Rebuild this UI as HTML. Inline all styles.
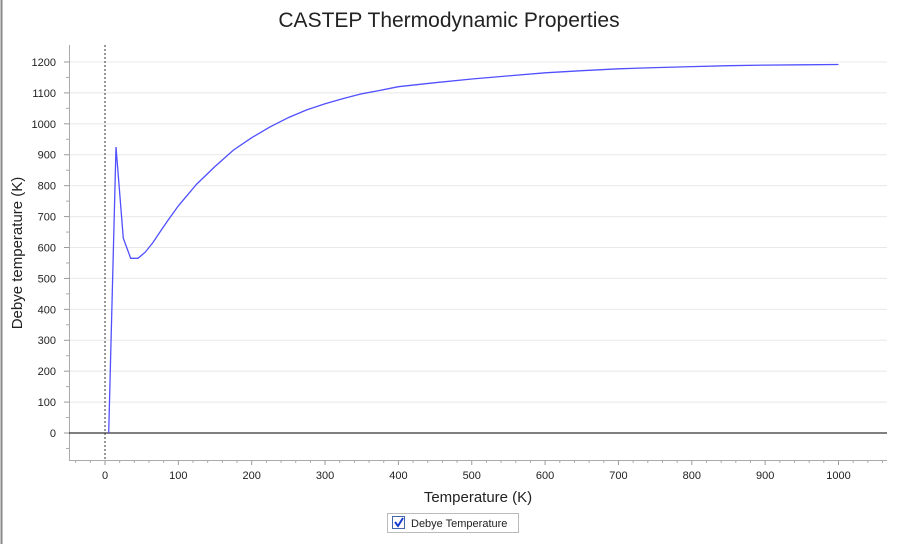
<!DOCTYPE html>
<html><head><meta charset="utf-8"><style>
body{margin:0;width:900px;height:544px;background:#fff;font-family:"Liberation Sans",sans-serif;overflow:hidden}
</style></head><body>
<svg width="900" height="544" xmlns="http://www.w3.org/2000/svg">
<rect x="0" y="0" width="900" height="544" fill="#fff"/>
<line x1="1.5" y1="0" x2="1.5" y2="544" stroke="#888" stroke-width="2"/>
<text x="449" y="27" text-anchor="middle" font-size="21" fill="#222">CASTEP Thermodynamic Properties</text>
<g id="grid"></g>
<g id="axes"></g>
<path id="series" fill="none" stroke="#5050ff" stroke-width="1.3"/>
<text x="478" y="502" text-anchor="middle" font-size="15" fill="#222">Temperature (K)</text>
<text transform="translate(22,253) rotate(-90)" text-anchor="middle" font-size="15" fill="#222">Debye temperature (K)</text>
<g>
<rect x="387.5" y="513.5" width="131" height="19" fill="#fff" stroke="#bbb"/>
<rect x="392.5" y="516.5" width="12" height="12" fill="#fff" stroke="#4466aa"/>
<path d="M395 522 L398 526 L403 518" stroke="#1a3dd0" stroke-width="2" fill="none"/>
<text x="411" y="527" font-size="11" fill="#222">Debye Temperature</text>
</g>
</svg>
<script>
const temps=[5,15,25,35,45,55,65,75,85,100,125,150,175,200,225,250,275,300,325,350,375,400,450,500,550,600,650,700,750,800,850,900,950,1000];
const debye=[0,925,630,565,565,585,615,650,685,735,805,862,915,955,990,1020,1045,1065,1082,1097,1108,1120,1133,1145,1155,1165,1172,1178,1182,1185,1188,1190,1191,1192];
const xTicks=[0,100,200,300,400,500,600,700,800,900,1000];
const yTicks=[0,100,200,300,400,500,600,700,800,900,1000,1100,1200];
const X=v=>105+v*0.7335, Y=v=>433-v*0.30917;
const L=69,R=887,T=45,B=460;
const ns="http://www.w3.org/2000/svg";
function mk(t,a,p){const e=document.createElementNS(ns,t);for(const k in a)e.setAttribute(k,a[k]);p.appendChild(e);return e;}
const g=document.getElementById('grid'),ax=document.getElementById('axes');
yTicks.forEach(v=>{
 if(v!==0){const l=mk('line',{x1:L,x2:R,y1:Y(v),y2:Y(v),stroke:'#e8e8e8'},g);
 
 }
 const t=mk('text',{x:L-13,y:Y(v)+4,'text-anchor':'end','font-size':'11',fill:'#222'},ax);t.textContent=v;
 
 
 mk('line',{x1:L-5,x2:L,y1:Y(v),y2:Y(v),stroke:'#999'},ax);
});
for(let v=-50;v<=1240;v+=50){if(v%100)mk('line',{x1:L-3,x2:L,y1:Y(v),y2:Y(v),stroke:'#aaa'},ax);}
for(let v=-40;v<=1060;v+=20){if(v%100)mk('line',{x1:X(v),x2:X(v),y1:B,y2:B+3,stroke:'#aaa'},ax);}
xTicks.forEach(v=>{
 mk('line',{x1:X(v),x2:X(v),y1:B,y2:B+5,stroke:'#999'},ax);
 const t=mk('text',{x:X(v),y:B+19,'text-anchor':'middle','font-size':'11',fill:'#222'},ax);t.textContent=v;
 
 
});
mk('line',{x1:L+.5,x2:L+.5,y1:T,y2:B,stroke:'#aaa'},ax);
mk('line',{x1:L,x2:R,y1:B+.5,y2:B+.5,stroke:'#aaa'},ax);
const z=mk('line',{x1:L,x2:R,y1:Y(0),y2:Y(0),stroke:'#333','stroke-width':1.3},ax);


const vz=mk('line',{x1:X(0),x2:X(0),y1:T,y2:B,stroke:'#333','stroke-dasharray':'2,2'},ax);


document.getElementById('series').setAttribute('d',temps.map((t,i)=>(i?'L':'M')+X(t).toFixed(1)+' '+Y(debye[i]).toFixed(1)).join(' '));
</script>
</body></html>
